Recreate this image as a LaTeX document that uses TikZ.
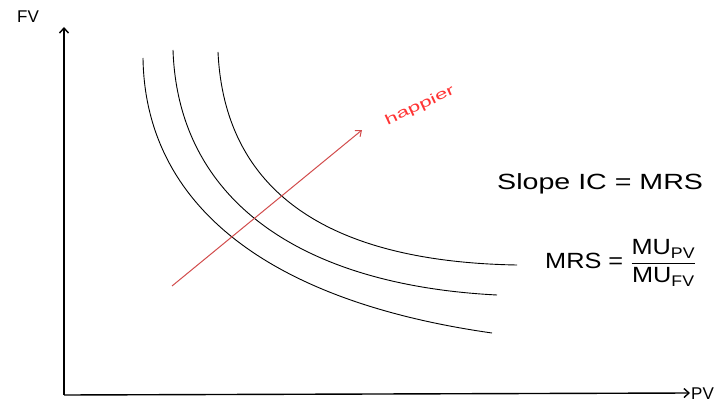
\documentclass[tikz,border=0pt]{standalone}
\usepackage{amsmath}
\usepackage{graphicx}
\usepackage{fontspec}
\setmainfont{Liberation Sans}
\usetikzlibrary{arrows.meta}
\begin{document}
\begin{tikzpicture}[x=1pt,y=-1pt,
  axis/.style={line width=1.4pt,-{Straight Barb[length=5pt,width=9pt]}},
  ic/.style={line width=0.9pt},
  lbl/.style={font=\fontsize{22}{24}\selectfont},
  happy/.style={draw=red!75!black!70,line width=1pt,-{Straight Barb[length=5pt,width=8pt]}}]
\useasboundingbox[fill=white] (0,0) rectangle (718,412);
\coordinate (O) at (64,395);
\coordinate (Ytop) at (64,27);
\coordinate (Xend) at (690,393);
\draw[axis] (O) -- (Ytop);
\draw[axis] (O) -- (Xend);
\node[font=\fontsize{17}{19}\selectfont,inner sep=1pt] (fv) at (28,17) {FV};
\node[font=\fontsize{17}{19}\selectfont,anchor=west,inner sep=1pt] (pv) at (690,394) {PV};
% indifference curves
\draw[ic] (143,58) .. controls (145,200) and (260,300) .. (492,333);
\draw[ic] (173,50) .. controls (178,200) and (300,285) .. (497,295);
\draw[ic] (218,52) .. controls (225,200) and (340,262) .. (517,265);
% happier arrow
\coordinate (hs) at (172,286);
\coordinate (he) at (362,130);
\draw[happy] (hs) -- (he);
\node[text=red!80,font=\fontsize{14}{16}\selectfont,rotate=25,inner sep=0pt] (hap) at (420,106) {\scalebox{1.6}[1]{happier}};
\node[lbl,anchor=west,inner sep=0pt] (slope) at (497,184) {\scalebox{1.3}[1]{Slope IC = MRS}};
\node[lbl,anchor=west,inner sep=0pt] (mrs) at (545,263) {\scalebox{1.15}[1]{MRS = $\displaystyle\frac{\text{MU}_{\text{PV}}}{\text{MU}_{\text{FV}}}$}};
\end{tikzpicture}
\end{document}
